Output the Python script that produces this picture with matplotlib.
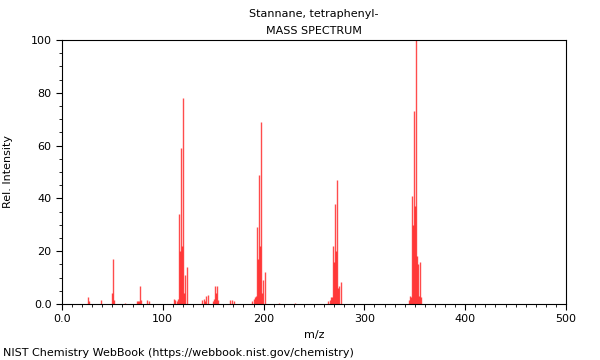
import matplotlib
matplotlib.use("Agg")
import matplotlib.pyplot as plt
from matplotlib.ticker import MultipleLocator

# peaks (m/z, relative intensity)
mz = [26, 27, 39, 50, 51, 52, 63, 74, 75, 76, 77, 78, 84, 86,
      111, 112, 114, 115, 116, 117, 118, 119, 120, 121, 122, 124,
      139, 141, 142, 143, 145, 150, 151, 152, 153, 154, 155, 167, 169, 171,
      189, 190, 191, 192, 193, 194, 195, 196, 197, 198, 199, 201,
      215, 231, 264, 266, 267, 268, 269, 270, 271, 272, 273, 274, 275, 277,
      344, 345, 346, 347, 348, 349, 350, 351, 352, 353, 354, 355, 356]
intensity = [2.5, 1, 1.5, 4, 17, 1.5, 0.5, 1, 1, 1, 7, 1.5, 1.5, 1,
             2, 1.5, 1, 2, 34, 20, 59, 22, 78, 4, 11, 14,
             1.5, 2, 1, 3, 3.5, 1, 2, 7, 4, 7, 1.5, 1.5, 1.5, 1,
             1, 2, 2.5, 3, 29, 17, 49, 22, 69, 4, 9, 12,
             0.5, 0.5, 1, 1.5, 2.5, 2.5, 22, 16, 38, 20, 47, 6, 7, 8.5,
             1.5, 3, 2.5, 41, 30, 73, 37, 100, 18, 15, 3, 16, 2.5]

fig = plt.figure(figsize=(6, 3.6), dpi=100)
ax = fig.add_axes([0.1033, 0.1556, 0.84, 0.7333])

ax.vlines(mz, 0, intensity, colors="red", linewidth=1, alpha=0.7)

ax.set_xlim(0, 500)
ax.set_ylim(0, 100)
ax.xaxis.set_major_locator(MultipleLocator(100))
ax.xaxis.set_minor_locator(MultipleLocator(10))
ax.yaxis.set_major_locator(MultipleLocator(20))
ax.yaxis.set_minor_locator(MultipleLocator(5))
ax.set_xticks([0, 100, 200, 300, 400, 500], ["0.0", "100", "200", "300", "400", "500"])
ax.set_yticks([0, 20, 40, 60, 80, 100], ["0.0", "20", "40", "60", "80", "100"])
ax.tick_params(labelsize=8, length=4, width=0.8)
ax.tick_params(which="minor", length=2, width=0.6)

ax.set_xlabel("m/z", fontsize=8)
ax.set_ylabel("Rel. Intensity", fontsize=8)
ax.yaxis.set_label_coords(-0.098, 0.5)

# titles centred over the plot area
fig.text(0.5233, 0.96, "Stannane, tetraphenyl-", ha="center", va="center", fontsize=8)
fig.text(0.5233, 0.915, "MASS SPECTRUM", ha="center", va="center", fontsize=8)
fig.text(0.005, 0.02, "NIST Chemistry WebBook (https://webbook.nist.gov/chemistry)",
         ha="left", va="center", fontsize=8)

fig.savefig("out.png", dpi=100)
